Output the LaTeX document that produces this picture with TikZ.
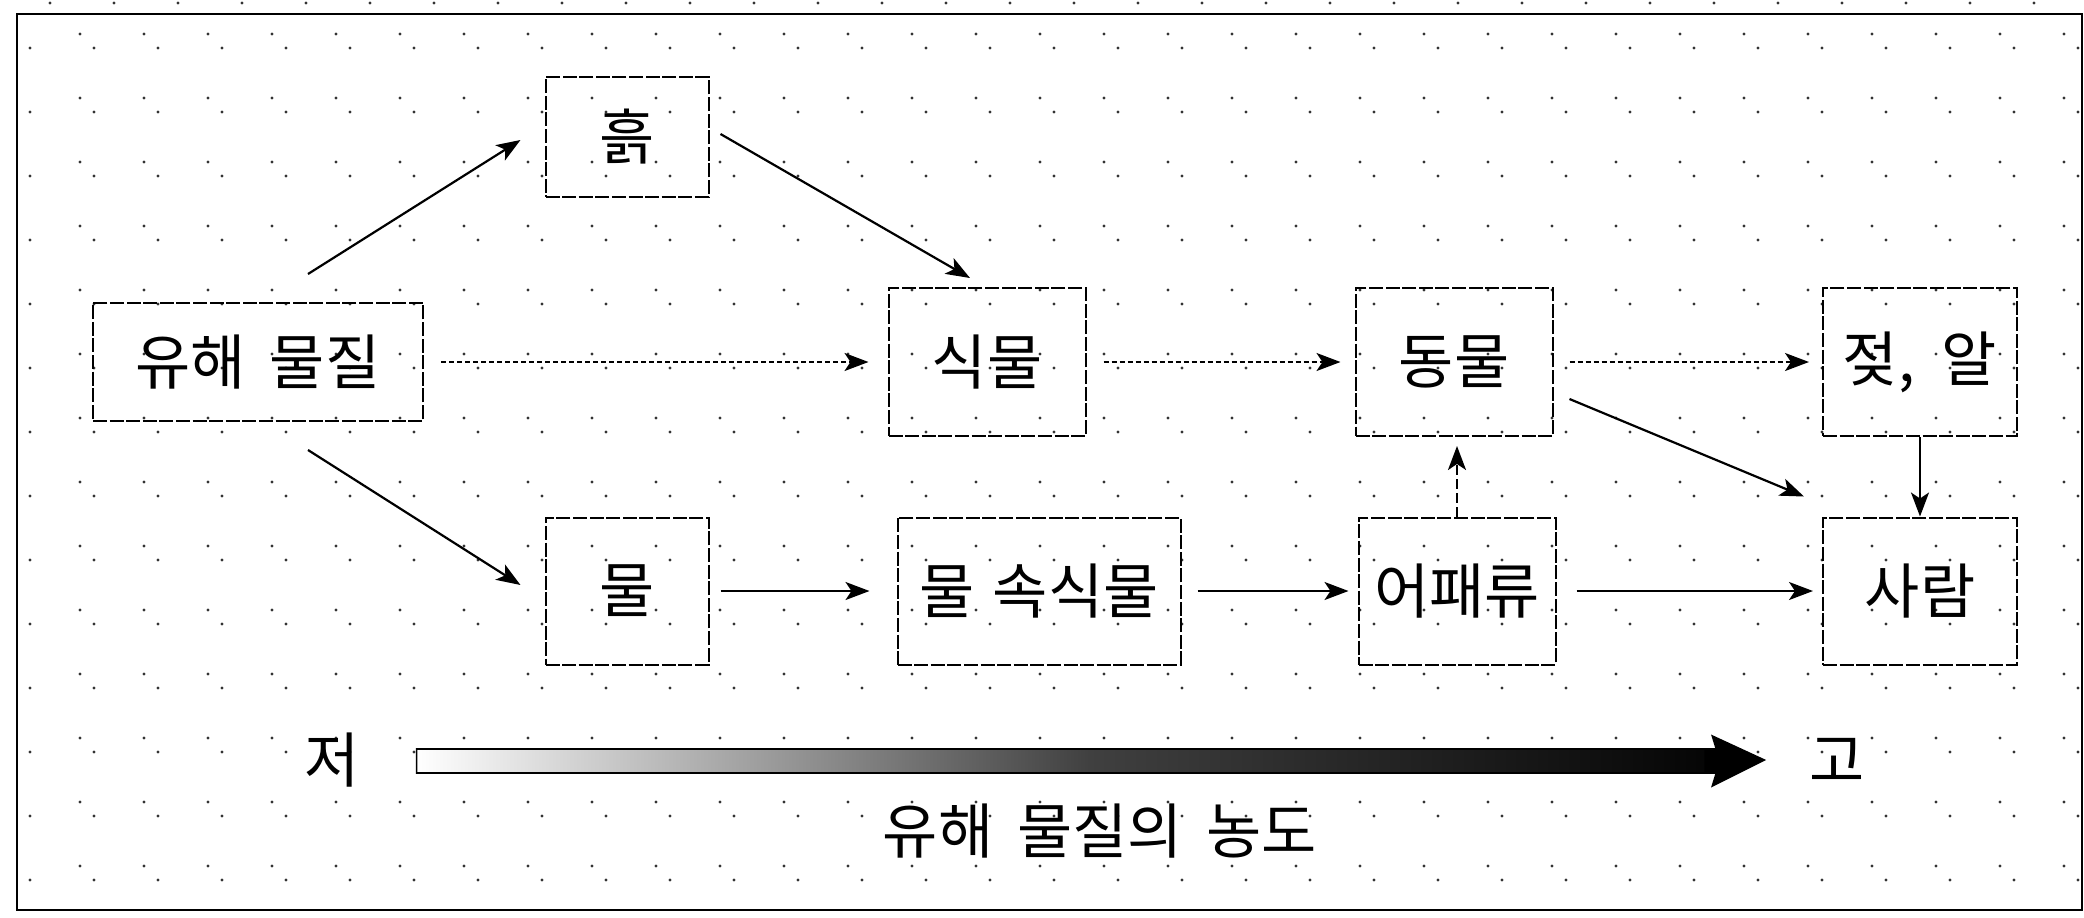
\documentclass[tikz,border=0pt]{standalone}
\usepackage{fontspec}
\newfontfamily\kr{Noto Sans CJK KR}
\usetikzlibrary{arrows.meta,calc}
\begin{document}
\begin{tikzpicture}[x=0.5pt,y=-0.5pt,
  font=\kr\fontsize{30}{34}\selectfont,
  box/.style={draw, line width=1pt, dash pattern=on 7pt off 1.3pt, inner sep=0pt},
  arr/.style={line width=1.1pt, -{Stealth[length=12pt,width=9pt,inset=3pt]}},
  dotarr/.style={arr, dash pattern=on 2.5pt off 1.5pt},
  dasharr/.style={arr, dash pattern=on 5pt off 2pt},
  bgdot/.style={fill=black!80}]
\useasboundingbox (0,0) rectangle (2084,917);
% background dots
\foreach \i in {0,...,32}{
  \fill[bgdot] (50+64*\i,3) circle (1.6);
  \foreach \j in {0,...,13}{
    \fill[bgdot] (80+64*\i,34+64*\j) circle (1.6);
    \fill[bgdot] (30+64*\i,48+64*\j) circle (1.6);
  }
}
% frame
\draw[line width=1.2pt] (17,14) rectangle (2082,910);
% nodes
\node[box, minimum width=81.5pt, minimum height=60pt] (heuk) at (627,137) {흙};
\node[box, minimum width=165pt, minimum height=59pt] (yh) at (258,362) {유해\hspace{0.4em}물질};
\node[box, minimum width=98.5pt, minimum height=74pt] (sik) at (987,362) {식물};
\node[box, minimum width=98.5pt, minimum height=74pt] (dong) at (1454,362) {동물};
\node[box, minimum width=97pt, minimum height=74pt] (jeot) at (1920,362) {젖,\hspace{0.45em}알};
\node[box, minimum width=81.5pt, minimum height=73.5pt] (mul) at (627,591) {물};
\node[box, minimum width=141.5pt, minimum height=73.5pt] (msik) at (1039,591) {물\hspace{0.3em}속식물};
\node[box, minimum width=98.5pt, minimum height=73.5pt] (eo) at (1457,591) {어패류};
\node[box, minimum width=97pt, minimum height=73.5pt] (sa) at (1920,591) {사람};
\node (lo) at (332,760) {저};
\node (hi) at (1837,760) {고};
\node (lab) at (1100,831) {유해\hspace{0.4em}물질의\hspace{0.4em}농도};
% free ends of diagonal connectors
\coordinate (a1) at ($(yh.north)+(50,-28)$);
\coordinate (a2) at ($(heuk.west)+(-24,3)$);
\coordinate (b1) at ($(heuk.east)+(11,-3)$);
\coordinate (b2) at ($(sik.north)+(-17,-9)$);
\coordinate (c1) at ($(yh.south)+(50,28)$);
\coordinate (c2) at ($(mul.west)+(-24,-6)$);
\coordinate (d1) at ($(dong.east)+(16,37)$);
\coordinate (d2) at ($(sa.north west)+(-18,-20)$);
% connectors
\draw[arr] (a1) -- (a2);
\draw[arr] (b1) -- (b2);
\draw[arr] (c1) -- (c2);
\draw[arr] (d1) -- (d2);
\draw[dotarr, shorten <=8.5pt, shorten >=9.5pt] (yh.east) -- (sik.west);
\draw[dotarr, shorten <=8.5pt, shorten >=7pt] (sik.east) -- (dong.west);
\draw[dotarr, shorten <=8pt, shorten >=6.5pt] (dong.east) -- (jeot.west);
\draw[arr] (jeot.south) -- (sa.north);
\draw[dasharr, shorten >=4.5pt] (eo.north) -- (eo.north |- dong.south);
\draw[arr, shorten <=5.5pt, shorten >=13.5pt] (mul.east) -- (msik.west);
\draw[arr, shorten <=8pt, shorten >=4.5pt] (msik.east) -- (eo.west);
\draw[arr, shorten <=10pt, shorten >=4.5pt] (eo.east) -- (sa.west);
% concentration arrow
\coordinate (g1) at ($(lo.east)+(50,0)$);
\coordinate (g2) at ($(hi.west)+(-38,0)$);
\shade[left color=white, right color=black, middle color=black!75, draw=black, line width=0.8pt]
  ($(g1)+(0,-11)$) -- ($(g2)+(-48,-11)$) -- ($(g2)+(-52,-24)$) -- (g2) -- ($(g2)+(-52,26)$) -- ($(g2)+(-48,13)$) -- ($(g1)+(0,13)$) -- cycle;
\fill[black] ($(g2)+(-60,-11)$) -- ($(g2)+(-48,-11)$) -- ($(g2)+(-52,-24)$) -- (g2) -- ($(g2)+(-52,26)$) -- ($(g2)+(-48,13)$) -- ($(g2)+(-60,13)$) -- cycle;
\end{tikzpicture}
\end{document}
